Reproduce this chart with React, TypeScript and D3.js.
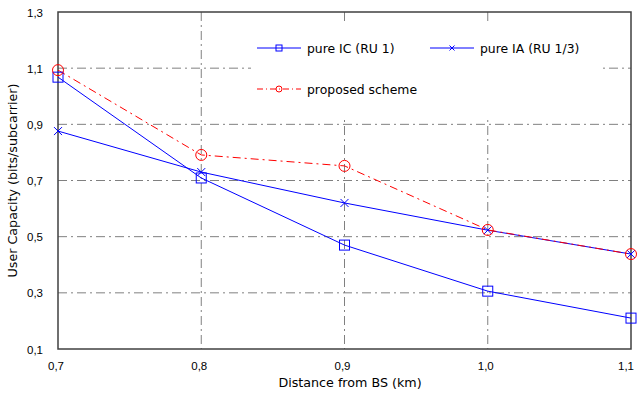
import React from "react";
import * as d3 from "d3";

const distances = [0.7, 0.8, 0.9, 1.0, 1.1];
const pureIC = [1.068, 0.709, 0.47, 0.306, 0.21];
const pureIA = [0.876, 0.73, 0.62, 0.523, 0.438];
const proposed = [1.093, 0.791, 0.752, 0.524, 0.438];
const xTicks = [0.7, 0.8, 0.9, 1.0, 1.1];
const yTicks = [0.1, 0.3, 0.5, 0.7, 0.9, 1.1, 1.3];

const W = 637, H = 397;
const L = 58, R = 631, T = 12, B = 349;
const FONT = "'DejaVu Sans', sans-serif";
const TFONT = "'Liberation Sans', Arial, sans-serif";
const fmt = (v: number) => v.toFixed(1).replace(".", ",");

export default function App() {
  const x = d3.scaleLinear().domain([0.7, 1.1]).range([L, R]);
  const y = d3.scaleLinear().domain([0.1, 1.3]).range([B, T]);
  const line = d3.line<number>().x((_, i) => x(distances[i])).y((v) => y(v));
  const grid = "#808080";
  const blue = "#0000ff";
  const red = "#ff0000";

  const square = (cx: number, cy: number, k: string, s = 5) => (
    <rect key={k} x={cx - s} y={cy - s} width={2 * s} height={2 * s} fill="none" stroke={blue} strokeWidth={1} />
  );
  const cross = (cx: number, cy: number, k: string, s = 4) => (
    <path key={k} d={`M${cx - s},${cy - s}L${cx + s},${cy + s}M${cx - s},${cy + s}L${cx + s},${cy - s}`} stroke={blue} strokeWidth={1} />
  );
  const circ = (cx: number, cy: number, k: string, r = 5.5) => (
    <circle key={k} cx={cx} cy={cy} r={r} fill="none" stroke={red} strokeWidth={1} />
  );

  return (
    <svg width={W} height={H} style={{ position: "absolute", left: 0, top: 0, background: "#fff" }}>
      <rect x={0} y={0} width={W} height={H} fill="#fff" />
      {/* grid */}
      {xTicks.slice(1, -1).map((t) => (
        <line key={"gx" + t} x1={x(t)} x2={x(t)} y1={T} y2={B} stroke={grid} strokeWidth={1} strokeDasharray="9,4,2,4" />
      ))}
      {yTicks.slice(1, -1).map((t) => (
        <line key={"gy" + t} x1={L} x2={R} y1={y(t)} y2={y(t)} stroke={grid} strokeWidth={1} strokeDasharray="9,4,2,4" />
      ))}
      {/* legend box (covers grid) */}
      <rect x={251} y={21} width={349} height={96} fill="#fff" />
      <rect x={L} y={T} width={R - L} height={B - T} fill="none" stroke="#404040" strokeWidth={1.5} />
      {/* tick labels */}
      {yTicks.map((t) => (
        <text key={"yl" + t} x={L - 15} y={y(t) + 4.5} textAnchor="end" fontFamily={TFONT} fontSize={11.5} fill="#000">{fmt(t)}</text>
      ))}
      {xTicks.map((t, i) => (
        <text key={"xl" + t} x={i === xTicks.length - 1 ? x(t) + 3 : x(t) - 2} y={B + 21} textAnchor={i === xTicks.length - 1 ? "end" : "middle"} fontFamily={TFONT} fontSize={11.5} fill="#000">{fmt(t)}</text>
      ))}
      <text x={350} y={387} textAnchor="middle" fontFamily={FONT} fontSize={12.7}>Distance from BS (km)</text>
      <text transform={`translate(17,${(T + B) / 2}) rotate(-90)`} textAnchor="middle" fontFamily={FONT} fontSize={12.7}>User Capacity (bits/subcarrier)</text>
      {/* lines */}
      <path d={line(pureIC) || ""} fill="none" stroke={blue} strokeWidth={1} />
      <path d={line(pureIA) || ""} fill="none" stroke={blue} strokeWidth={1} />
      <path d={line(proposed) || ""} fill="none" stroke={red} strokeWidth={1} strokeDasharray="8,4,2,4" />
      {pureIC.map((v, i) => square(x(distances[i]), y(v), "s" + i))}
      {pureIA.map((v, i) => cross(x(distances[i]), y(v), "c" + i))}
      {proposed.map((v, i) => circ(x(distances[i]), y(v), "o" + i))}
      {/* legend */}
      <line x1={257} x2={301} y1={48} y2={48} stroke={blue} />
      {square(279, 48, "ls", 3)}
      <text x={307} y={52.5} fontFamily={FONT} fontSize={12.4}>pure IC (RU 1)</text>
      <line x1={430} x2={474} y1={48} y2={48} stroke={blue} />
      {cross(452, 48, "lc", 2.5)}
      <text x={480} y={52.5} fontFamily={FONT} fontSize={12.4}>pure IA (RU 1/3)</text>
      <line x1={257} x2={301} y1={89} y2={89} stroke={red} strokeDasharray="6,3,1,3" />
      {circ(279, 89, "lo", 3)}
      <text x={307} y={93.5} fontFamily={FONT} fontSize={12.4}>proposed scheme</text>
    </svg>
  );
}
